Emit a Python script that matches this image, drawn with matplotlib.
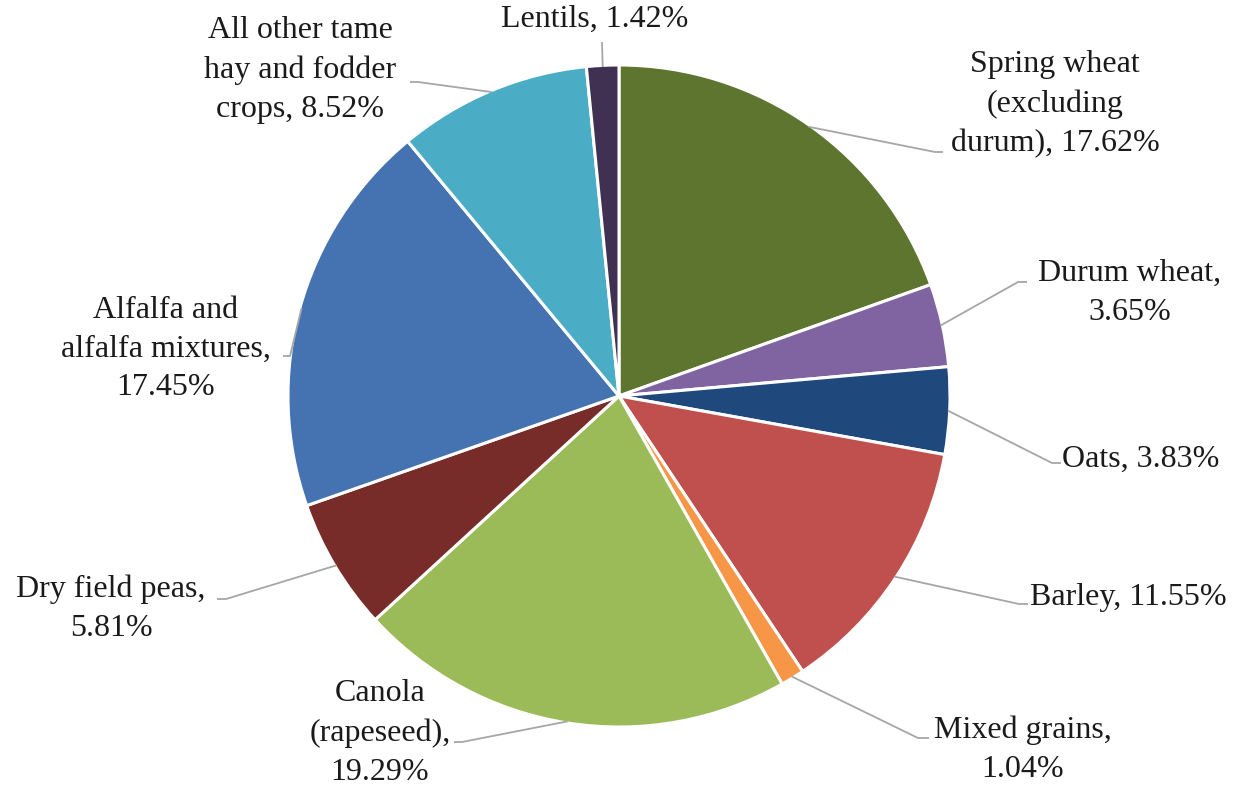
import matplotlib
matplotlib.use("Agg")
import matplotlib.pyplot as plt
import numpy as np

# Share of harvested area by crop (%)
crops = [
    "Spring wheat\n(excluding\ndurum)",
    "Durum wheat",
    "Oats",
    "Barley",
    "Mixed grains",
    "Canola\n(rapeseed)",
    "Dry field peas",
    "Alfalfa and\nalfalfa mixtures",
    "All other tame\nhay and fodder\ncrops",
    "Lentils",
]
shares = [17.62, 3.65, 3.83, 11.55, 1.04, 19.29, 5.81, 17.45, 8.52, 1.42]
label_text = [
    "Spring wheat\n(excluding\ndurum), 17.62%",
    "Durum wheat,\n3.65%",
    "Oats, 3.83%",
    "Barley, 11.55%",
    "Mixed grains,\n1.04%",
    "Canola\n(rapeseed),\n19.29%",
    "Dry field peas,\n5.81%",
    "Alfalfa and\nalfalfa mixtures,\n17.45%",
    "All other tame\nhay and fodder\ncrops, 8.52%",
    "Lentils, 1.42%",
]
colors = ["#5e752f", "#8064a2", "#1f497d", "#c0504d", "#f79646",
          "#9bbb59", "#772c2a", "#4573b1", "#4bacc6", "#403152"]

W, H = 1236, 788
fig = plt.figure(figsize=(W / 100, H / 100), dpi=100)
fig.patch.set_facecolor("white")

# Pie axes: square in pixels, centred on the drawing
cx, cy, r = 619, 396, 331
ax = fig.add_axes([(cx - r) / W, (H - cy - r) / H, 2 * r / W, 2 * r / H])
wedges, _ = ax.pie(shares, colors=colors, startangle=90, counterclock=False,
                   radius=1.0, wedgeprops=dict(edgecolor="white", linewidth=2.2))
ax.set_xlim(-1, 1)
ax.set_ylim(-1, 1)
ax.set_aspect("auto")
ax.axis("off")

# Overlay in pixel coordinates (y down) for labels and leader lines
ov = fig.add_axes([0, 0, 1, 1])
ov.set_xlim(0, W)
ov.set_ylim(H, 0)
ov.axis("off")
ov.patch.set_alpha(0)

# label placement: (x, y, ha) of text, then leader line points near the label
layout = [
    dict(x=1055, y=104, ha="center", pts=[(935, 152), (943, 152)]),
    dict(x=1130, y=293, ha="center", pts=[(1018, 282), (1027, 282)]),
    dict(x=1062, y=459, ha="left", pts=[(1052, 463), (1061, 463)]),
    dict(x=1030, y=597, ha="left", pts=[(1019, 604), (1028, 604)]),
    dict(x=1023, y=750, ha="center", pts=[(918, 738), (929, 738)]),
    dict(x=380, y=733, ha="center", pts=[(462, 742), (454, 742)]),
    dict(x=111, y=609, ha="center", pts=[(226, 599), (217, 599)]),
    dict(x=166, y=349, ha="center", pts=[(290, 356), (283, 356)]),
    dict(x=300, y=70, ha="center", pts=[(418, 82), (410, 82)]),
    dict(x=595, y=19, ha="center", pts=[(602, 42)]),
]

to_ov = ov.transData.inverted()
for w, txt, lay in zip(wedges, label_text, layout):
    mid = np.deg2rad((w.theta1 + w.theta2) / 2)
    edge = ax.transData.transform((np.cos(mid) * 0.995, np.sin(mid) * 0.995))
    ex, ey = to_ov.transform(edge)
    xs = [ex] + [p[0] for p in lay["pts"]]
    ys = [ey] + [p[1] for p in lay["pts"]]
    ov.plot(xs, ys, color="#a6a6a6", lw=1.3, solid_capstyle="butt")
    ov.text(lay["x"], lay["y"], txt, ha=lay["ha"], va="center",
            fontsize=23, family="Liberation Serif", color="#1a1a1a",
            linespacing=1.45, multialignment="center")

fig.savefig("out.png", dpi=100, facecolor="white")
